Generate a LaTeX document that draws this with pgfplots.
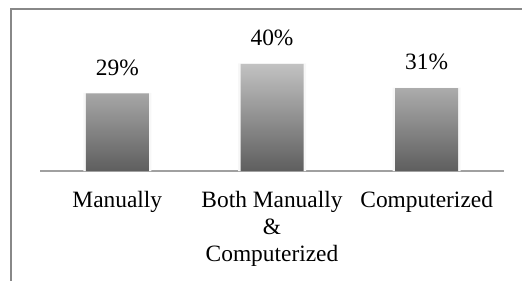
\documentclass[border=0pt]{standalone}
\usepackage{fontspec}
\setmainfont{Liberation Serif}
\usepackage{pgfplots}
\pgfplotsset{compat=1.18}
\definecolor{bartop}{HTML}{C2C2C2}
\definecolor{barbot}{HTML}{5E5E5E}
\definecolor{axgray}{HTML}{A0A0A0}
\definecolor{framegray}{HTML}{888888}
\begin{document}
\begin{tikzpicture}
\useasboundingbox (0,0) rectangle (261pt,140pt);
\clip (0,0) rectangle (261pt,140pt);
\draw[framegray, line width=1pt] (5.5pt,-5pt) -- (5.5pt,135.5pt) -- (270pt,135.5pt);
\begin{axis}[
  at={(20pt,54.5pt)}, anchor=south west,
  scale only axis,
  width=232pt, height=60.2pt,
  xmin=-0.5, xmax=2.5,
  ymin=0, ymax=45,
  axis y line=none,
  axis x line=bottom,
  axis line style={axgray, line width=0.6pt, -},
  xtick={0,1,2},
  xticklabels={Manually, {Both Manually\\\&\\Computerized}, Computerized},
  xticklabel style={align=center, font=\fontsize{11.7}{13.6}\selectfont, yshift=-6.5pt},
  major tick length=0pt,
  ytick=\empty,
  clip=false,
  ybar, bar width=31.5pt,
  /pgf/number format/assume math mode=true,
  every node near coord/.append style={font=\fontsize{11.7}{13.6}\selectfont, yshift=5.5pt, black},
]
\addplot[draw=none, fill=black!3, bar width=34pt, bar shift=0pt] coordinates {(0,29.2) (1,40.2) (2,31.2)};
\addplot[draw=none, top color=bartop, bottom color=barbot, bar shift=0pt,
  nodes near coords={\pgfmathprintnumber{\pgfplotspointmeta}\%}] coordinates {(0,29) (1,40) (2,31)};
\end{axis}
\end{tikzpicture}
\end{document}
